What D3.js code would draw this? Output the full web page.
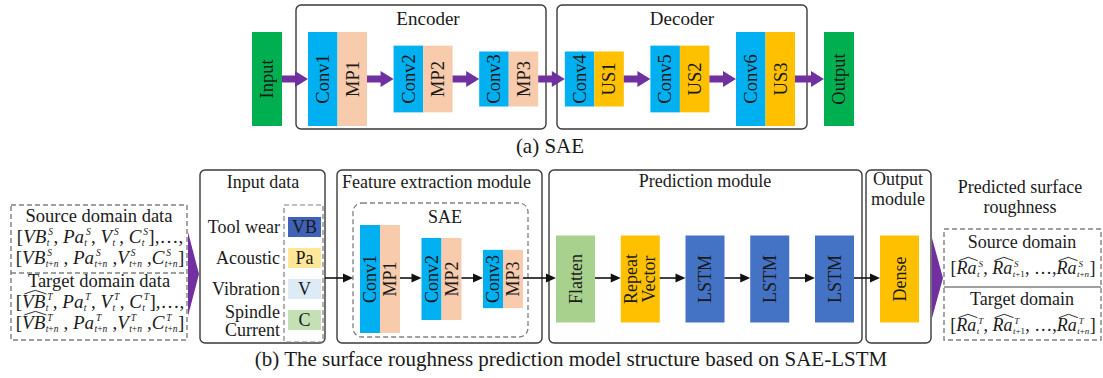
<!DOCTYPE html>
<html><head><meta charset="utf-8">
<script src="https://cdn.jsdelivr.net/npm/d3@7"></script>
<style>
html,body{margin:0;padding:0;background:#fff;}
svg{display:block;font-family:"Liberation Serif","Times New Roman",Times,serif;}
</style></head><body>
<svg id="fig" width="1103" height="378"></svg>
<script>
// ---------- model structure ----------
const saeEncoder   = ["Conv1", "Conv2", "Conv3"];
const saePooling   = ["MP1", "MP2", "MP3"];
const saeDecoder   = ["Conv4", "Conv5", "Conv6"];
const saeUpsample  = ["US1", "US2", "US3"];
const encoderScale = [1.0, 0.71, 0.585];   // relative feature-map height per stage
const decoderScale = [0.585, 0.71, 1.0];
const featureScale = [1.0, 0.76, 0.54];    // SAE inside the feature extraction module
const inputLabels  = [["Tool wear"], ["Acoustic"], ["Vibration"], ["Spindle", "Current"]];
const inputCodes   = ["VB", "Pa", "V", "C"];
const predictionLayers = [["Flatten"], ["Repeat", "Vector"], ["LSTM"], ["LSTM"], ["LSTM"]];
const outputLayers = [["Dense"]];

// domain data expressions
const srcData = [
  ["[", {b: "VB", sup: "S", sub: "t"}, ", ", {b: "Pa", sup: "S", sub: "t"}, ", ", {b: "V", sup: "S", sub: "t"}, ", ", {b: "C", sup: "S", sub: "t"}, "],…,"],
  ["[", {b: "VB", sup: "S", sub: "t+n"}, " , ", {b: "Pa", sup: "S", sub: "t+n"}, " ,", {b: "V", sup: "S", sub: "t+n"}, " ,", {b: "C", sup: "S", sub: "t+n"}, "]"]
];
const tgtData = [
  ["[", {b: "VB", hat: true, sup: "T", sub: "t"}, ", ", {b: "Pa", sup: "T", sub: "t"}, ", ", {b: "V", sup: "T", sub: "t"}, ", ", {b: "C", sup: "T", sub: "t"}, "],…,"],
  ["[", {b: "VB", hat: true, sup: "T", sub: "t+n"}, " , ", {b: "Pa", sup: "T", sub: "t+n"}, " ,", {b: "V", sup: "T", sub: "t+n"}, " ,", {b: "C", sup: "T", sub: "t+n"}, "]"]
];
const srcPred = ["[", {b: "Ra", hat: true, sup: "S", sub: "t"}, ", ", {b: "Ra", hat: true, sup: "S", sub: "t+1"}, ", …,", {b: "Ra", hat: true, sup: "S", sub: "t+n"}, "]"];
const tgtPred = ["[", {b: "Ra", hat: true, sup: "T", sub: "t"}, ", ", {b: "Ra", hat: true, sup: "T", sub: "t+1"}, ", …,", {b: "Ra", hat: true, sup: "T", sub: "t+n"}, "]"];

// ---------- palette ----------
const col = {
  conv: "#00B0F0", pool: "#F8CBAD", up: "#FFC000", io: "#00B050", purple: "#7030A0",
  lstm: "#4472C4", flatten: "#A9D18E", repeat: "#FFC000", dense: "#FFC000",
  codes: ["#3F62B8", "#FFE699", "#DDEBF7", "#C5E0B4"],
  ink: "#1a1a1a", frame: "#3a3a3a", dash: "#808080"
};
const layerColor = {Flatten: col.flatten, Repeat: col.repeat, LSTM: col.lstm, Dense: col.dense};

const svg = d3.select("#fig");

// ---------- helpers ----------
function frame(x0, y0, x1, y1, opts = {}) {
  return svg.append("rect")
    .attr("x", x0).attr("y", y0).attr("width", x1 - x0).attr("height", y1 - y0)
    .attr("rx", opts.r ?? 5).attr("fill", "none")
    .attr("stroke", opts.dash ? col.dash : col.frame)
    .attr("stroke-width", opts.w ?? 1.4)
    .attr("stroke-dasharray", opts.dash ? "5,3" : null);
}
function label(x, y, txt, size, anchor = "middle") {
  return svg.append("text").attr("x", x).attr("y", y).attr("text-anchor", anchor)
    .attr("font-size", size).attr("fill", col.ink).text(txt);
}
function block(x, w, cy, h, fill, lines, size) {
  svg.append("rect").attr("x", x).attr("y", cy - h / 2).attr("width", w).attr("height", h).attr("fill", fill);
  const t = svg.append("text")
    .attr("transform", `translate(${x + w / 2},${cy}) rotate(-90)`)
    .attr("text-anchor", "middle").attr("font-size", size).attr("fill", col.ink);
  lines.forEach((s, i) => {
    t.append("tspan").attr("x", 0)
      .attr("y", (i - (lines.length - 1) / 2) * size + size * 0.34).text(s);
  });
}
function fatArrow(x0, x1, y) {
  const head = 13, hh = 8, sh = 3.6;
  const p = d3.path();
  p.moveTo(x0, y - sh); p.lineTo(x1 - head, y - sh); p.lineTo(x1 - head, y - hh);
  p.lineTo(x1, y); p.lineTo(x1 - head, y + hh); p.lineTo(x1 - head, y + sh);
  p.lineTo(x0, y + sh); p.closePath();
  svg.append("path").attr("d", p.toString()).attr("fill", col.purple);
}
function thinArrow(x0, x1, y) {
  const head = 10, hh = 4.5;
  svg.append("line").attr("x1", x0).attr("x2", x1 - head + 1).attr("y1", y).attr("y2", y)
    .attr("stroke", "#111").attr("stroke-width", 1.6);
  svg.append("path").attr("d", `M${x1 - head},${y - hh}L${x1},${y}L${x1 - head},${y + hh}Z`).attr("fill", "#111");
}
function wedge(x0, x1, y0, y1) {
  svg.append("path").attr("d", `M${x0},${y0}L${x1},${(y0 + y1) / 2}L${x0},${y1}Z`).attr("fill", col.purple);
}

// width of a run of characters at a given size/style
const probe = svg.append("text").attr("x", -999).attr("y", -999);
const nb = s => s.replace(/ /g, "\u00A0");
function measure(str, size, italic) {
  probe.attr("font-size", size).attr("font-style", italic ? "italic" : "normal").text(nb(str));
  return probe.node().getComputedTextLength();
}

// typesets a bracketed expression with stacked super/subscripts as one text, centred on cx
function mathLine(cx, base, items, fs) {
  const ss = fs * 0.5;
  const runs = [];   // {s, x, y, size, italic}
  const hats = [];
  let x = 0;
  items.forEach(it => {
    if (typeof it === "string") {
      runs.push({s: it, x, y: base, size: fs, italic: false});
      x += measure(it, fs, false);
      return;
    }
    const w = measure(it.b, fs, true);
    runs.push({s: it.b, x, y: base, size: fs, italic: true});
    if (it.hat) hats.push([x + fs * 0.12, x + w + fs * 0.06]);
    const sx = x + w + fs * 0.02;
    runs.push({s: it.sup, x: sx + fs * 0.08, y: base - fs * 0.4, size: ss, italic: true});
    let subX = sx;
    Array.from(it.sub).forEach(ch => {
      const ital = /[a-z]/i.test(ch);
      runs.push({s: ch, x: subX, y: base + fs * 0.15, size: ss, italic: ital});
      subX += measure(ch, ss, ital);
    });
    x = Math.max(sx + fs * 0.08 + measure(it.sup, ss, true), subX) + fs * 0.02;
  });
  const off = cx - x / 2;
  const t = svg.append("text").attr("fill", col.ink);
  runs.forEach(r => {
    t.append("tspan").attr("x", off + r.x).attr("y", r.y).attr("font-size", r.size)
      .attr("font-style", r.italic ? "italic" : "normal").text(nb(r.s));
  });
  hats.forEach(([a, b]) => {
    const yb = base - fs * 0.74, yt = base - fs * 0.93;
    svg.append("path").attr("d", `M${off + a},${yb}L${off + (a + b) / 2},${yt}L${off + b},${yb}`)
      .attr("fill", "none").attr("stroke", col.ink).attr("stroke-width", 0.9);
  });
}

// ---------- (a) SAE ----------
const topCy = 79, pairW = 59, half = pairW / 2;
const topH = d3.scaleLinear().domain([0, 1]).range([0, 94]);
const pairX = d3.scaleLinear().domain([0, 5]).range([308, 736]);
const topStages = saeEncoder.map((c, i) => ({conv: c, side: saePooling[i], fill: col.pool, s: encoderScale[i]}))
  .concat(saeDecoder.map((c, i) => ({conv: c, side: saeUpsample[i], fill: col.up, s: decoderScale[i]})));

frame(296, 5, 546, 129);
frame(557, 5, 807, 129);
label(428, 25, "Encoder", 19);
label(682, 25, "Decoder", 19);

const inX = pairX(0) - 56, outX = pairX(5) + pairW + 29;
block(inX, 30, topCy, topH(1), col.io, ["Input"], 18.5);
topStages.forEach((d, i) => {
  block(pairX(i), half, topCy, topH(d.s), col.conv, [d.conv], 18.5);
  block(pairX(i) + half, half, topCy, topH(d.s), d.fill, [d.side], 18.5);
});
block(outX, 30, topCy, topH(1), col.io, ["Output"], 18.5);

fatArrow(inX + 30, pairX(0), topCy);
topStages.forEach((d, i) => {
  const x0 = pairX(i) + pairW;
  fatArrow(x0, i < topStages.length - 1 ? pairX(i + 1) : outX, topCy);
});
label(550, 153, "(a) SAE", 21);

// ---------- (b) SAE-LSTM ----------
const rowCy = 279, arrowY = 278;

// domain data source
frame(11, 205, 187, 340, {dash: true, r: 0});
svg.append("line").attr("x1", 11).attr("x2", 187).attr("y1", 273).attr("y2", 273)
  .attr("stroke", col.dash).attr("stroke-width", 1.3).attr("stroke-dasharray", "5,3");
label(99, 222, "Source domain data", 18.5);
mathLine(100, 243, srcData[0], 19);
mathLine(100, 264, srcData[1], 19);
label(99, 287, "Target domain data", 18.5);
mathLine(100, 308, tgtData[0], 19);
mathLine(100, 329, tgtData[1], 19);
wedge(188, 199, 232, 316);

// input data
frame(200, 170, 325, 343);
label(263, 188, "Input data", 18);
frame(284, 205, 323, 342, {dash: true, r: 0, w: 1.2});
const codeY = d3.scalePoint().domain(d3.range(inputCodes.length)).range([217, 310]);
inputCodes.forEach((c, i) => {
  const y = codeY(i);
  svg.append("rect").attr("x", 288).attr("y", y).attr("width", 33).attr("height", 20).attr("fill", col.codes[i]);
  label(304.5, y + 16, c, 18);
  const lines = inputLabels[i];
  lines.forEach((s, k) => label(280, y + 16 + (k - (lines.length - 1) / 2) * 18 + (lines.length > 1 ? 1 : 0), s, 18, "end"));
});

// feature extraction module
frame(337, 170, 542, 343);
label(342, 188, "Feature extraction module", 18, "start");
frame(353, 203, 528, 337, {dash: true, r: 9, w: 1.3});
label(445, 223, "SAE", 18);
const featX = d3.scaleLinear().domain([0, 2]).range([360, 483]);
const featH = d3.scaleLinear().domain([0, 1]).range([0, 108]);
saeEncoder.forEach((c, i) => {
  block(featX(i), 20, rowCy, featH(featureScale[i]), col.conv, [c], 18);
  block(featX(i) + 20, 20, rowCy, featH(featureScale[i]), col.pool, [saePooling[i]], 18);
});

// prediction module
frame(549, 170, 862, 343);
label(705, 187, "Prediction module", 18);
const predX = d3.scaleLinear().domain([0, predictionLayers.length - 1]).range([556, 815]);
predictionLayers.forEach((lines, i) => block(predX(i), 39, rowCy, 87, layerColor[lines[0]], lines, 18));

// output module
frame(866, 170, 931, 343);
label(898, 185, "Output", 18);
label(898, 205, "module", 18);
outputLayers.forEach(lines => block(880, 39, rowCy, 87, layerColor[lines[0]], lines, 18));

// data flow
thinArrow(325, 353, arrowY);
saeEncoder.forEach((c, i) => {
  if (i < saeEncoder.length - 1) thinArrow(featX(i) + 40, featX(i + 1), arrowY);
});
thinArrow(featX(2) + 40, predX(0), arrowY);
predictionLayers.forEach((l, i) => {
  thinArrow(predX(i) + 39, i < predictionLayers.length - 1 ? predX(i + 1) : 880, arrowY);
});

// predicted roughness
wedge(932, 943, 238, 318);
label(1020, 193, "Predicted surface", 18);
label(1020, 213, "roughness", 18);
frame(944, 229, 1101, 340, {dash: true, r: 0});
svg.append("line").attr("x1", 944).attr("x2", 1101).attr("y1", 287).attr("y2", 287)
  .attr("stroke", col.dash).attr("stroke-width", 1.3);
label(1022, 248, "Source domain", 18);
mathLine(1023, 274, srcPred, 18);
label(1022, 305, "Target domain", 18);
mathLine(1023, 331, tgtPred, 18);

probe.remove();
label(571, 366, "(b) The surface roughness prediction model structure based on SAE-LSTM", 21);
</script>
</body></html>
